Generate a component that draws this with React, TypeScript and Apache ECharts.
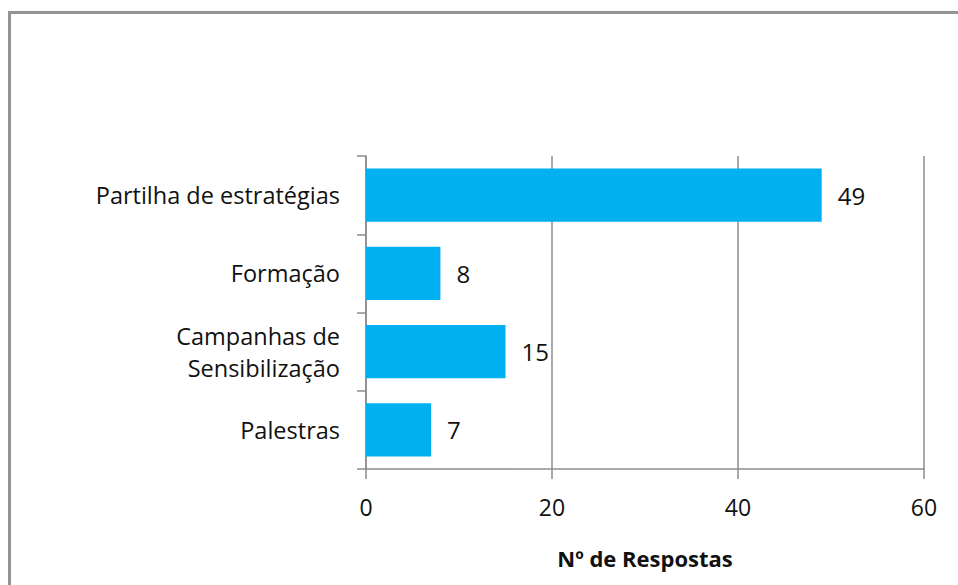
import React, { useEffect, useRef } from "react";
import * as echarts from "echarts";

const categories = ["Partilha de estratégias", "Formação", "Campanhas de\nSensibilização", "Palestras"];
const values = [49, 8, 15, 7];
const xTicks = [0, 20, 40, 60];
const axisTitle = "Nº de Respostas";

const FONT = "'Open Sans', sans-serif";

export default function App() {
  const ref = useRef<HTMLDivElement>(null);
  useEffect(() => {
    if (!ref.current) return;
    const chart = echarts.init(ref.current, undefined, { renderer: "svg" });
    chart.setOption({
      animation: false,
      backgroundColor: "#ffffff",
      textStyle: { fontFamily: FONT },
      graphic: [
        { type: "rect", shape: { x: 8, y: 11, width: 950, height: 3 }, style: { fill: "#949494" } },
        { type: "rect", shape: { x: 8, y: 11, width: 3, height: 574 }, style: { fill: "#949494" } },
      ],
      grid: { left: 366, right: 34, top: 156, bottom: 116, containLabel: false },
      xAxis: {
        type: "value",
        min: xTicks[0],
        max: xTicks[xTicks.length - 1],
        interval: 20,
        name: axisTitle,
        nameLocation: "middle",
        nameGap: 78,
        nameTextStyle: { fontFamily: FONT, fontSize: 22, fontWeight: "bold", color: "#111" },
        axisLine: { show: true, lineStyle: { color: "#8c8c8c", width: 1.5 } },
        axisTick: { show: true, length: 10, lineStyle: { color: "#8c8c8c", width: 1.5 } },
        axisLabel: { margin: 26, fontSize: 23, color: "#111", fontFamily: FONT },
        splitLine: { show: true, lineStyle: { color: "#8c8c8c", width: 1.5 } },
      },
      yAxis: {
        type: "category",
        data: categories,
        inverse: true,
        axisLine: { show: true, lineStyle: { color: "#8c8c8c", width: 1.5 } },
        axisTick: { show: true, length: 9, lineStyle: { color: "#8c8c8c", width: 1.5 } },
        axisLabel: { margin: 26, fontSize: 23.5, color: "#111", fontFamily: FONT, lineHeight: 32, align: "right" },
      },
      series: [
        {
          type: "bar",
          data: values,
          barCategoryGap: "32%",
          itemStyle: { color: "#00B0F0" },
          label: { show: true, position: "right", distance: 16, fontSize: 24, color: "#111", fontFamily: FONT },
        },
      ],
    });
    return () => chart.dispose();
  }, []);
  return (
    <div style={{ position: "fixed", left: 0, top: 0, width: 958, height: 585 }}>
      <div ref={ref} style={{ width: 958, height: 585 }} />
    </div>
  );
}
